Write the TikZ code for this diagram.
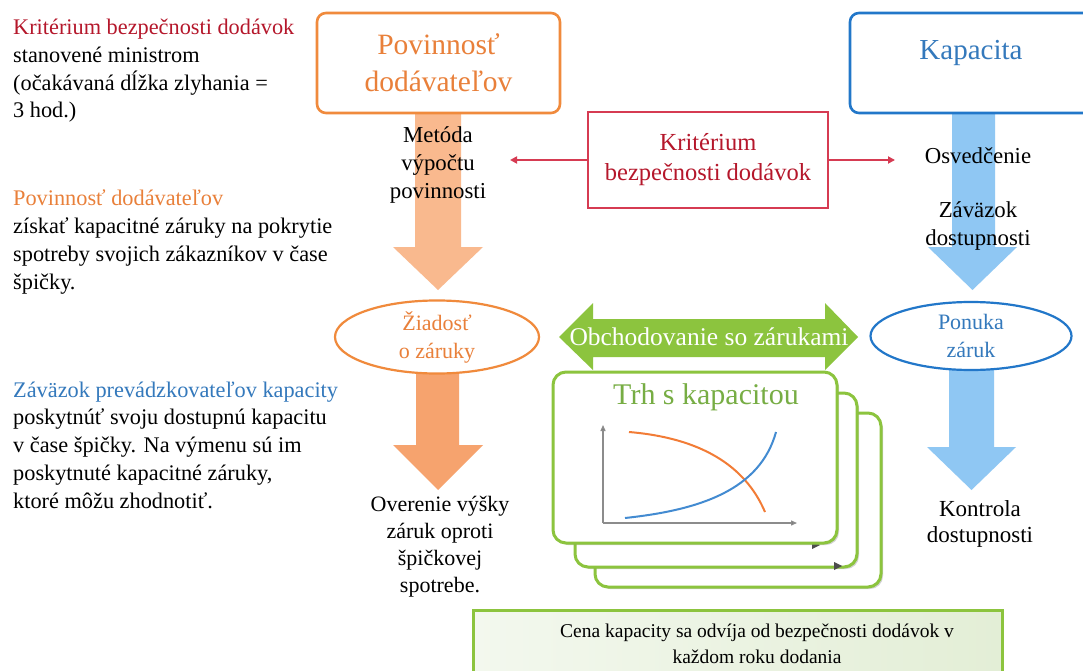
\documentclass[tikz,border=0pt]{standalone}
\usepackage{fontspec}
\setmainfont{Liberation Serif}
\usetikzlibrary{shapes.geometric,shadows,arrows.meta}
\definecolor{cred}{HTML}{B5172B}
\definecolor{credline}{HTML}{D63B52}
\definecolor{corange}{HTML}{F08A3C}
\definecolor{corangetext}{HTML}{E9803A}
\definecolor{cblue}{HTML}{2277C9}
\definecolor{cbluetext}{HTML}{3479BC}
\definecolor{lorange}{HTML}{F9B98E}
\definecolor{morange}{HTML}{F6A36E}
\definecolor{lblue}{HTML}{8FC7F3}
\definecolor{cgreen}{HTML}{8CC43E}
\definecolor{cgreentext}{HTML}{77AD44}
\definecolor{gfillA}{HTML}{F3F8EE}
\definecolor{gfillB}{HTML}{E3EED6}
\newcommand\setfs[2]{\fontsize{#1}{#2}\selectfont}
\begin{document}
\begin{tikzpicture}[x=1pt,y=-1pt,
  lefttext/.style={anchor=base west, align=left, inner sep=0pt, font=\setfs{22.3}{27.7}},
  midtext/.style={align=center, inner sep=0pt, font=\setfs{22.8}{28}},
  topbox/.style={draw, line width=2.6pt, rounded corners=9pt, fill=white, align=center, inner sep=0pt},
  oval/.style={ellipse, draw, line width=2.2pt, fill=white, align=center, inner sep=0pt, font=\setfs{22}{28}},
  redarrow/.style={draw=credline, line width=2pt, -{Triangle[length=7pt,width=7pt]}},
  stackbox/.style={draw=cgreen, line width=3pt, rounded corners=13pt, fill=white,
     drop shadow={shadow xshift=2pt, shadow yshift=-2pt, opacity=.35, fill=black!50}},
  axis/.style={draw=black!45, line width=1.3pt, -{Triangle[length=6pt,width=5pt,fill=black!70]}}
]
\useasboundingbox[fill=white] (0,0) rectangle (1083,671);

% ---------- left texts (base = last line) ----------
\node[lefttext] (tKrit) at (13,118) {\textcolor{cred}{Kritérium bezpečnosti dodávok}\\stanovené ministrom\\(očakávaná dĺžka zlyhania =\\3 hod.)};
\node[lefttext] (tPov) at (13,289) {\textcolor{corangetext}{Povinnosť dodávateľov}\\získať kapacitné záruky na pokrytie\\spotreby svojich zákazníkov v čase\\špičky.};
\node[lefttext] (tZav) at (13,508) {\textcolor{cbluetext}{Záväzok prevádzkovateľov kapacity}\\poskytnúť svoju dostupnú kapacitu\\v čase špičky. Na výmenu sú im\\poskytnuté kapacitné záruky,\\ktoré môžu zhodnotiť.};

% ---------- fat arrows ----------
\fill[lorange] (415,113) -- (461,113) -- (461,247) -- (483,247) -- (438,290) -- (393,247) -- (415,247) -- cycle;
\fill[lblue] (952,113) -- (995,113) -- (995,247) -- (1017,247) -- (972.5,290) -- (928,247) -- (952,247) -- cycle;
\fill[morange] (416,372) -- (459,372) -- (459,445) -- (483,445) -- (438,490) -- (393,445) -- (416,445) -- cycle;
\fill[lblue] (949,370) -- (994,370) -- (994,447) -- (1016,447) -- (971.5,490) -- (927,447) -- (949,447) -- cycle;

% ---------- top boxes ----------
\node[topbox, draw=corange, text=corangetext, minimum width=243pt, minimum height=100pt, font=\setfs{29.5}{37}] (pov) at (438.5,63) {Povinnosť\\dodávateľov};
\node[topbox, draw=cblue, minimum width=246pt, minimum height=100pt] (kap) at (973,63) {};
\node[text=cbluetext, font=\setfs{29}{37}, inner sep=0pt] (kapt) at (971,53) {Kapacita};

\node[draw=credline, line width=2.4pt, fill=white, minimum width=240pt, minimum height=96pt, text=cred, align=center, inner sep=0pt, font=\setfs{24.5}{30}] (kb) at (708,160) {Kritérium\\bezpečnosti dodávok};
\coordinate (kbL) at (510,160);
\coordinate (kbR) at (895,160);
\draw[redarrow] (kb.west) -- (kbL);
\draw[redarrow] (kb.east) -- (kbR);

% ---------- texts on arrows ----------
\node[midtext] (tMet) at (438,165) {Metóda\\výpočtu\\povinnosti};
\node[midtext] (tOsv) at (978,156) {Osvedčenie};
\node[midtext] (tZd) at (978,226) {Záväzok\\dostupnosti};
\node[midtext, font=\setfs{22}{27}] (tOver) at (440,547) {Overenie výšky\\záruk oproti\\špičkovej\\spotrebe.};
\node[midtext, font=\setfs{23}{26}] (tKon) at (980,524) {Kontrola\\dostupnosti};

% ---------- ellipses ----------
\node[oval, draw=corange, text=corangetext, minimum width=204pt, minimum height=69pt] (ziad) at (437,337) {Žiadosť\\o záruky};
\node[oval, draw=cblue, text=cbluetext, minimum width=201pt, minimum height=68pt] (pon) at (971,336) {Ponuka\\záruk};

% ---------- stacked market boxes ----------
\node[stackbox, minimum width=286pt, minimum height=174pt] (m3) at (738,500) {};
\node[stackbox, minimum width=282pt, minimum height=174pt] (m2) at (716,480) {};
\fill[black!70] (812,541) -- (820,545) -- (812,549) -- cycle;
\fill[black!70] (834,562) -- (842,566) -- (834,570) -- cycle;
\node[stackbox, minimum width=284pt, minimum height=171pt] (m1) at (695,457.5) {};
\node[text=cgreentext, font=\setfs{30}{34}, inner sep=0pt] (trh) at (706,397) {Trh s kapacitou};

% chart
\coordinate (o) at (603,523);
\coordinate (ya) at (603,425);
\coordinate (xa) at (797,523);
\draw[axis] (o) -- (ya);
\draw[axis] (o) -- (xa);
\draw[draw=corange!90!red, line width=2pt] (629,432) .. controls (700,438) and (745,465) .. (765,512);
\draw[draw=cblue!85!white, line width=2pt] (625,518) .. controls (700,510) and (760,490) .. (776,432);

% ---------- green double arrow ----------
\fill[cgreen] (559,337) -- (593,303) -- (593,319) -- (825,319) -- (825,303) -- (858,337) -- (825,370) -- (825,357) -- (593,357) -- (593,370) -- cycle;
\node[text=white, font=\setfs{25.5}{28}, inner sep=0pt] (obch) at (709,337) {Obchodovanie so zárukami};

% ---------- bottom box ----------
\node[draw=cgreen, line width=3pt, left color=gfillA, right color=gfillB, minimum width=529pt, minimum height=80pt, inner sep=0pt] (cena) at (737.5,650) {};
\node[midtext, font=\setfs{19.5}{26}] (tCena) at (757,644) {Cena kapacity sa odvíja od bezpečnosti dodávok v\\každom roku dodania};
\end{tikzpicture}
\end{document}
